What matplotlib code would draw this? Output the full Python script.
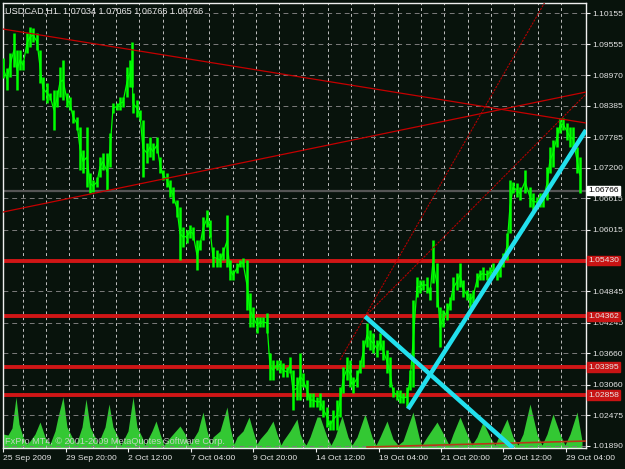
import matplotlib
matplotlib.use("Agg")
import matplotlib.pyplot as plt
import matplotlib.transforms as mtrans

# hourly bars, sampled every ~3 bars: bar index, high, low
bars = [0, 4, 7, 11, 14, 17, 20, 24, 27, 30, 34, 37, 40, 44, 47, 51, 54, 57, 60, 64,
        67, 70, 74, 77, 80, 84, 87, 90, 94, 97, 100, 104, 107, 110, 114, 117, 120, 124, 127, 129,
        130, 134, 137, 140, 144, 147, 150, 154, 157, 160, 164, 167, 170, 174, 177, 180, 184, 187, 190, 194,
        197, 200, 204, 207, 210, 214, 217, 220, 224, 227, 230, 234, 237, 240, 244, 247, 250, 254, 257, 260,
        264, 267, 270, 274, 277, 280, 284, 287, 290, 294, 297, 300, 304, 307, 310, 314, 317, 320, 324, 327,
        330, 334, 337, 340, 344, 347, 350, 354, 357, 360, 364, 367, 370, 374, 377, 380, 384, 387, 390, 394,
        397, 400, 404, 407, 410, 414, 417, 420, 424, 427, 430, 434, 437, 440, 444, 447, 450, 454, 457, 460,
        464, 467, 470, 474, 477, 480, 484, 487, 490, 494, 497, 500, 504, 507, 510, 514, 517, 522, 527, 530,
        534, 537, 540, 544, 547, 550, 554, 557, 560, 564, 567, 570, 574, 577]
highs = [1.09296, 1.09105, 1.09391, 1.09773, 1.09448, 1.09448, 1.09258, 1.09773, 1.09888, 1.09868,
         1.09773, 1.09448, 1.08933, 1.08819, 1.08628, 1.08685, 1.08685, 1.09124, 1.09258, 1.08628,
         1.08551, 1.08303, 1.08169, 1.07979, 1.07539, 1.07979, 1.07100, 1.06967, 1.07024, 1.07406,
         1.07482, 1.07482, 1.07864, 1.08437, 1.08437, 1.08551, 1.08551, 1.09124, 1.09258, 1.09601,
         1.08628, 1.08494, 1.08303, 1.08112, 1.07673, 1.07788, 1.07673, 1.07788, 1.07406, 1.07158,
         1.07100, 1.06967, 1.06833, 1.06585, 1.06451, 1.06070, 1.06012, 1.06108, 1.06070, 1.05821,
         1.05821, 1.06260, 1.06394, 1.06203, 1.05688, 1.05630, 1.05573, 1.05688, 1.06299, 1.05440,
         1.05249, 1.05382, 1.05440, 1.05478, 1.05440, 1.04810, 1.04542, 1.04351, 1.04351, 1.04351,
         1.04428, 1.03664, 1.03531, 1.03531, 1.03531, 1.03473, 1.03397, 1.03588, 1.03340, 1.03206,
         1.03664, 1.03282, 1.03149, 1.02901, 1.02901, 1.02824, 1.02901, 1.02767, 1.02633, 1.02385,
         1.02576, 1.02767, 1.03015, 1.03397, 1.03588, 1.03531, 1.03206, 1.03340, 1.03531, 1.03912,
         1.04237, 1.04103, 1.04046, 1.03912, 1.04046, 1.03912, 1.03721, 1.03588, 1.03015, 1.02958,
         1.02958, 1.02901, 1.03015, 1.03340, 1.04676, 1.05115, 1.05058, 1.05058, 1.05115, 1.04924,
         1.05821, 1.05382, 1.04542, 1.04485, 1.04619, 1.04733, 1.05115, 1.05191, 1.05382, 1.05058,
         1.04867, 1.04810, 1.04867, 1.05191, 1.05249, 1.05306, 1.05249, 1.05306, 1.05382, 1.05306,
         1.05440, 1.05573, 1.05955, 1.06967, 1.06929, 1.06910, 1.06833, 1.07158, 1.06833, 1.06719,
         1.06642, 1.06719, 1.06719, 1.07215, 1.07597, 1.07730, 1.07979, 1.08150, 1.08150, 1.08055,
         1.07979, 1.07979, 1.07597, 1.07406]
lows = [1.08914, 1.08685, 1.08933, 1.09124, 1.08685, 1.09067, 1.09067, 1.09391, 1.09506, 1.09601,
        1.09448, 1.08819, 1.08494, 1.08437, 1.08494, 1.07921, 1.08360, 1.08551, 1.08494, 1.08360,
        1.08303, 1.08055, 1.07921, 1.07158, 1.07100, 1.06833, 1.06719, 1.06738, 1.06833, 1.07024,
        1.07158, 1.06776, 1.07215, 1.08246, 1.08303, 1.08303, 1.08360, 1.08551, 1.08742, 1.08742,
        1.08246, 1.08169, 1.08112, 1.07024, 1.07291, 1.07406, 1.07349, 1.07482, 1.07100, 1.06967,
        1.06833, 1.06642, 1.06528, 1.06260, 1.05440, 1.05688, 1.05764, 1.05860, 1.05821, 1.05249,
        1.05630, 1.05821, 1.06070, 1.05879, 1.05306, 1.05306, 1.05306, 1.05440, 1.05306, 1.05058,
        1.05058, 1.05191, 1.05306, 1.05306, 1.04485, 1.04161, 1.04161, 1.04046, 1.04161, 1.04161,
        1.04046, 1.03149, 1.03149, 1.03340, 1.03282, 1.03206, 1.03206, 1.03282, 1.02576, 1.02767,
        1.02767, 1.03015, 1.02767, 1.02633, 1.02633, 1.02633, 1.02576, 1.02442, 1.02252, 1.02194,
        1.02194, 1.02194, 1.02442, 1.02901, 1.03149, 1.03015, 1.02901, 1.03015, 1.03282, 1.03397,
        1.03779, 1.03721, 1.03664, 1.03588, 1.03721, 1.03531, 1.03282, 1.03015, 1.02824, 1.02767,
        1.02710, 1.02710, 1.02633, 1.02958, 1.03015, 1.04733, 1.04810, 1.04867, 1.04810, 1.04676,
        1.05001, 1.04542, 1.03779, 1.04161, 1.04294, 1.04485, 1.04676, 1.04867, 1.04924, 1.04733,
        1.04676, 1.04542, 1.04619, 1.04924, 1.05058, 1.05058, 1.05058, 1.05115, 1.05115, 1.05058,
        1.05115, 1.05306, 1.05440, 1.05955, 1.06719, 1.06642, 1.06585, 1.06719, 1.06451, 1.06394,
        1.06451, 1.06451, 1.06451, 1.06585, 1.07100, 1.07215, 1.07597, 1.07864, 1.07921, 1.07730,
        1.07597, 1.07539, 1.07100, 1.06719]

# tick volume
vol_bars = [0, 5, 9, 13, 16, 20, 24, 27, 32, 37, 42, 47, 52, 55, 60, 64, 69, 73, 75, 79,
            83, 87, 92, 95, 97, 102, 106, 110, 115, 118, 120, 125, 130, 134, 139, 142, 144, 149, 153, 157,
            161, 164, 170, 177, 182, 186, 189, 195, 200, 204, 208, 210, 217, 224, 227, 231, 234, 240, 246, 250,
            254, 257, 264, 270, 274, 278, 280, 287, 294, 297, 300, 303, 307, 314, 317, 324, 328, 332, 339, 345,
            349, 354, 362, 369, 373, 377, 384, 390, 395, 400, 410, 417, 419, 424, 434, 442, 446, 450, 457, 464,
            469, 474, 480, 487, 492, 497, 504, 510, 515, 520, 527, 534, 539, 544, 550, 557, 562, 567, 574, 579]
volumes = [140, 130, 200, 510, 240, 110, 40, 70, 140, 260, 110, 40, 170, 310, 510, 210, 110, 40, 90, 210,
           490, 210, 110, 40, 90, 210, 440, 210, 110, 30, 70, 170, 510, 210, 110, 30, 70, 170, 270, 140,
           30, 70, 140, 220, 140, 30, 70, 170, 360, 170, 40, 110, 170, 410, 210, 40, 110, 170, 310, 170,
           40, 90, 170, 270, 140, 30, 70, 170, 290, 140, 70, 30, 110, 310, 310, 110, 30, 110, 320, 110,
           30, 110, 340, 110, 30, 110, 270, 90, 30, 70, 360, 70, 30, 110, 260, 110, 30, 140, 310, 140,
           30, 110, 260, 110, 30, 140, 290, 110, 30, 140, 440, 140, 30, 140, 340, 140, 30, 140, 360, 70]

price_ticks = [1.10155, 1.09555, 1.08970, 1.08385, 1.07785, 1.07200, 1.06615, 1.06015,
               1.05430, 1.04845, 1.04245, 1.03660, 1.03060, 1.02475, 1.01890]
time_ticks = [0, 63, 125, 188, 250, 313, 376, 438, 500, 563]
time_labels = ["25 Sep 2009", "29 Sep 20:00", "2 Oct 12:00", "7 Oct 04:00", "9 Oct 20:00",
               "14 Oct 12:00", "19 Oct 04:00", "21 Oct 20:00", "26 Oct 12:00", "29 Oct 04:00"]
day_separators = [20, 43, 66, 90, 113, 136, 160, 183, 206, 230, 253, 276, 300, 325,
                  348, 371, 395, 418, 441, 465, 488, 511, 535, 558]

levels = [1.05430, 1.04362, 1.03395, 1.02858]
bid = 1.06766
wedge_lines = [((0, 1.09849), (583, 1.08055)), ((0, 1.06356), (583, 1.08647))]
fan_lines = [((337, 1.03531), (543, 1.1040)), ((362, 1.04362), (583, 1.08609))]
cyan_lines = [((362, 1.04362), (510, 1.01851)), ((405, 1.02595), (583, 1.07921))]
low_line = ((364, 1.01870), (583, 1.01984))

bg = "#08130c"
txt = "#e4e4e4"
fs = 6.1
plt.rcParams["font.family"] = ["Liberation Sans", "DejaVu Sans"]

fig = plt.figure(figsize=(6.25, 4.69), dpi=100, facecolor=bg)
rect = [3 / 625, 21 / 469, 583 / 625, 445 / 469]
axv = fig.add_axes(rect)
axv.set_facecolor(bg)
axv.fill_between(vol_bars, 0, volumes, color="#33c833", lw=0)
axv.set_ylim(0, 4450)
axv.set_xlim(0, 583)
axv.axis("off")

ax = fig.add_axes(rect)
ax.patch.set_visible(False)
ax.set_xlim(0, 583)
ax.set_ylim(1.01851, 1.10346)

for b in day_separators:
    ax.axvline(b, color="#c0c0c0", lw=0.7, ls=(0, (3, 3)), zorder=1)
for p in price_ticks:
    ax.axhline(p, color="#7c7c7c", lw=0.7, ls=(0, (5, 4)), zorder=1)

ax.axhline(bid, color="#555555", lw=1.6, zorder=1.5)
for lv in levels:
    ax.axhline(lv, color="#d01616", lw=2.8, zorder=2)

mids = [(h + l) / 2 for h, l in zip(highs, lows)]
ax.vlines(bars, lows, highs, color="#00ff00", lw=1.8, zorder=3)
ax.plot(bars, mids, color="#00ff00", lw=0.9, zorder=3)

for (x0, y0), (x1, y1) in wedge_lines:
    ax.plot([x0, x1], [y0, y1], color="#c40000", lw=0.9, zorder=4)
for (x0, y0), (x1, y1) in fan_lines:
    ax.plot([x0, x1], [y0, y1], color="#b00000", lw=0.8, ls=(0, (2, 1)), zorder=4)
ax.plot([low_line[0][0], low_line[1][0]], [low_line[0][1], low_line[1][1]],
        color="#b83818", lw=1.2, zorder=4)
for (x0, y0), (x1, y1) in cyan_lines:
    ax.plot([x0, x1], [y0, y1], color="#22e0ee", lw=3.2, zorder=5,
            solid_capstyle="butt")

for s in ax.spines.values():
    s.set_color("#f0f0f0")
    s.set_linewidth(1)

ax.yaxis.tick_right()
ax.set_yticks(price_ticks)
# the red level box already shows 1.05430, so that tick label stays blank
ax.set_yticklabels(["" if p in levels else f"{p:.5f}" for p in price_ticks])
ax.set_xticks(time_ticks)
ax.set_xticklabels(time_labels)
for lab in ax.get_xticklabels():
    lab.set_ha("left")
ax.tick_params(axis="both", colors="#f0f0f0", labelcolor=txt, labelsize=fs,
               length=3, width=0.8)
ax.tick_params(axis="y", pad=1.5)
ax.tick_params(axis="x", pad=2)

tr = mtrans.blended_transform_factory(ax.transAxes, ax.transData)
ax.text(1.004, bid, f"{bid:.5f}", transform=tr, ha="left", va="center",
        fontsize=fs, color="black", zorder=6,
        bbox=dict(boxstyle="square,pad=0.15", fc="white", ec="white"))
for lv in levels:
    ax.text(1.004, lv, f"{lv:.5f}", transform=tr, ha="left", va="center",
            fontsize=fs, color="#e8e8e8", zorder=6, clip_on=False,
            bbox=dict(boxstyle="square,pad=0.15", fc="#c81414", ec="#c81414"))

fig.text(5 / 625, 1 - 11 / 469, "USDCAD,H1  1.07034 1.07065 1.06766 1.06766",
         color=txt, fontsize=6.6, va="center", ha="left")
fig.text(5 / 625, 1 - 441 / 469, "FxPro MT4, \u00a9 2001-2009 MetaQuotes Software Corp.",
         color="#d8d8d8", fontsize=6.6, va="center", ha="left", alpha=0.85)

fig.savefig("out.png", dpi=100, facecolor=bg)
